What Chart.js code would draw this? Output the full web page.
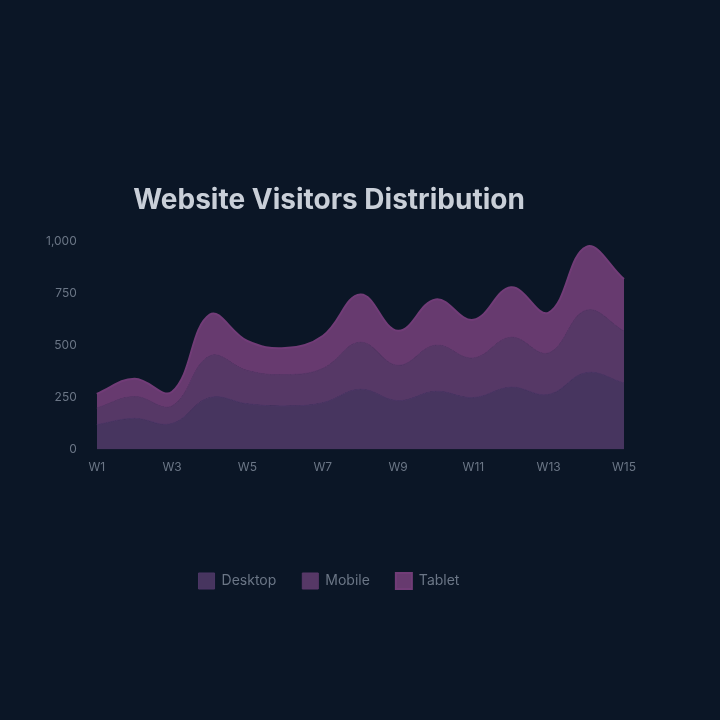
<!DOCTYPE html>
<html>
<head>
<meta charset="utf-8">
<script src="https://cdn.jsdelivr.net/npm/chart.js@4/dist/chart.umd.min.js"></script>
<style>
  html, body { margin:0; padding:0; background:#0b1626; }
  #wrap { width:720px; height:720px; }
</style>
</head>
<body>
<div id="wrap"><canvas id="areaChart"></canvas></div>
<script>
// datos
const weeks = ['W1','W2','W3','W4','W5','W6','W7','W8','W9','W10','W11','W12','W13','W14','W15'];
const desktop = [120,150,125,250,220,210,225,290,235,280,250,300,265,370,320];
const mobile  = [80,105,85,200,160,150,165,226,170,222,190,240,200,300,250];
const tablet  = [68,86,68,199,142,128,156,230,166,220,184,240,194,305,250];
const yTicks  = [0,250,500,750,1000];

Chart.defaults.font.family = 'Inter, "Noto Sans", sans-serif';

new Chart(document.getElementById('areaChart'), {
  type: 'line',
  data: {
    labels: weeks,
    datasets: [{
      label: 'Desktop',
      data: desktop,
      fill: 'origin',
      backgroundColor: '#47355f',
      borderColor: '#4d3766',
      borderWidth: 1,
      tension: 0.4,
      pointRadius: 0
    },{
      label: 'Mobile',
      data: mobile,
      fill: '-1',
      backgroundColor: '#563866',
      borderColor: '#5b396a',
      borderWidth: 1,
      tension: 0.4,
      pointRadius: 0
    },{
      label: 'Tablet',
      data: tablet,
      fill: '-1',
      backgroundColor: '#673a6f',
      borderColor: '#713c77',
      borderWidth: 2,
      tension: 0.4,
      pointRadius: 0
    }]
  },
  options: {
    responsive: true,
    maintainAspectRatio: false,
    animation: false,
    layout: { padding: { top: 184, left: 34, right: 96, bottom: 121 } },
    scales: {
      x: {
        grid: { display: false },
        border: { display: false },
        ticks: { color: '#6b7686', font: { size: 12 }, maxRotation: 0, autoSkip: true, maxTicksLimit: 8 },
        // espacio extra entre eje x y leyenda
        afterFit: axis => { axis.height += 69; }
      },
      y: {
        stacked: true,
        min: yTicks[0],
        max: yTicks[yTicks.length - 1],
        grid: { display: false },
        border: { display: false },
        afterBuildTicks: axis => { axis.ticks = yTicks.map(v => ({ value: v })); },
        ticks: { color: '#6b7686', font: { size: 12 }, padding: 12 }
      }
    },
    plugins: {
      title: {
        display: true,
        text: 'Website Visitors Distribution',
        color: '#c9cfd8',
        font: { size: 28, weight: 'bold' },
        padding: { top: 0, bottom: 24 }
      },
      legend: {
        position: 'bottom',
        labels: { color: '#6b7686', boxWidth: 16, boxHeight: 16, padding: 26, font: { size: 14 } }
      },
      tooltip: { enabled: false }
    }
  }
});
</script>
</body>
</html>
